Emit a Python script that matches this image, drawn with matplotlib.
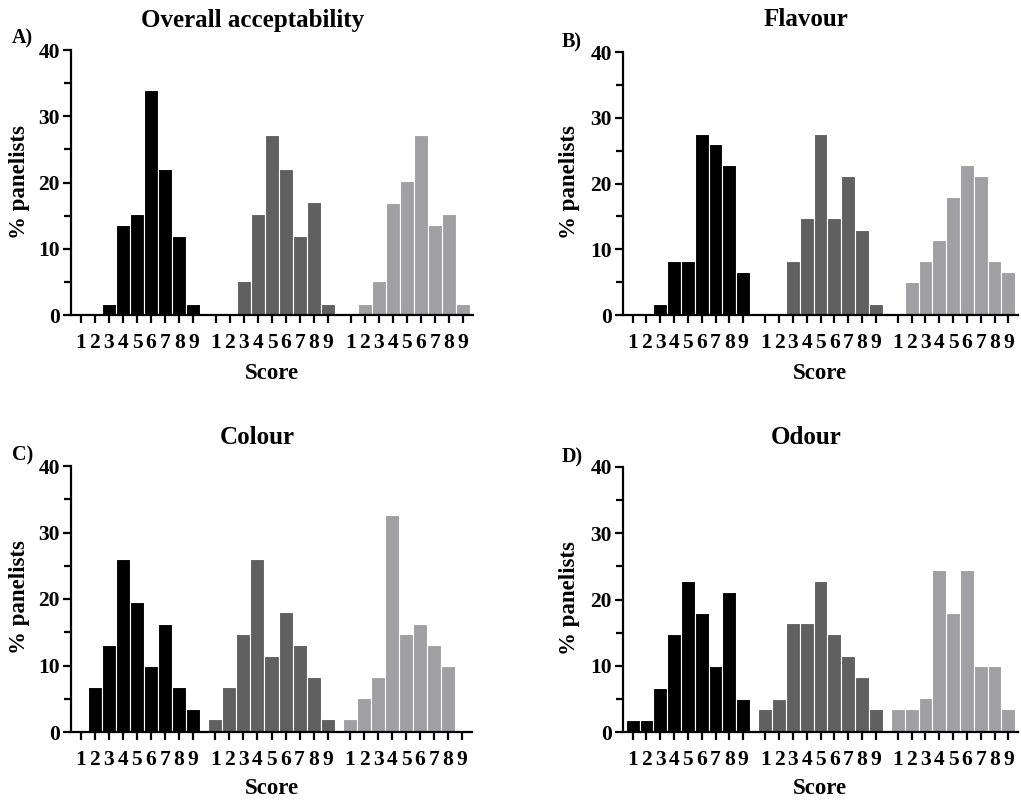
import numpy as np
import matplotlib
matplotlib.use("Agg")
import matplotlib.pyplot as plt
from matplotlib.ticker import MultipleLocator

plt.rcParams['font.family'] = ['Liberation Serif', 'DejaVu Serif']
plt.rcParams['font.weight'] = 'bold'

scores = [1, 2, 3, 4, 5, 6, 7, 8, 9]
colors = ['#000000', '#606060', '#a0a0a4']
group_step = 9.6

# % panelists per score, three samples per attribute
overall_1 = [0, 0, 1.7, 13.6, 15.3, 33.9, 22.0, 11.9, 1.7]
overall_2 = [0, 0, 5.1, 15.3, 27.1, 22.0, 11.9, 17.0, 1.7]
overall_3 = [0, 1.7, 5.1, 16.9, 20.3, 27.1, 13.6, 15.3, 1.7]

flavour_1 = [0, 0, 1.7, 8.2, 8.2, 27.6, 26.0, 22.8, 6.6]
flavour_2 = [0, 0, 8.2, 14.8, 27.6, 14.8, 21.1, 13.0, 1.7]
flavour_3 = [0, 5.0, 8.2, 11.4, 18.0, 22.8, 21.1, 8.2, 6.6]

colour_1 = [0, 6.7, 13.1, 26.0, 19.6, 9.9, 16.3, 6.7, 3.4]
colour_2 = [1.9, 6.7, 14.7, 26.0, 11.5, 18.0, 13.1, 8.3, 1.9]
colour_3 = [1.9, 5.1, 8.3, 32.6, 14.7, 16.3, 13.1, 9.9, 0]

odour_1 = [1.8, 1.8, 6.7, 14.8, 22.8, 18.0, 9.9, 21.1, 5.0]
odour_2 = [3.4, 5.0, 16.4, 16.4, 22.8, 14.8, 11.5, 8.3, 3.4]
odour_3 = [3.4, 3.4, 5.1, 24.5, 18.0, 24.5, 9.9, 9.9, 3.4]


def draw_panel(ax, groups):
    xs_all, labels = [], []
    for g, vals in enumerate(groups):
        xs = np.array(scores) + g * group_step
        ax.bar(xs, vals, width=1.0, color=colors[g], edgecolor='white', linewidth=0.8)
        xs_all.extend(xs)
        labels.extend([str(s) for s in scores])
    ax.set_xticks(xs_all)
    ax.set_xticklabels(labels)
    ax.set_xlim(0.3, 28.9)
    ax.set_ylim(0, 40)
    ax.yaxis.set_major_locator(MultipleLocator(10))
    ax.yaxis.set_minor_locator(MultipleLocator(5))
    for s in ['top', 'right']:
        ax.spines[s].set_visible(False)
    for s in ['left', 'bottom']:
        ax.spines[s].set_linewidth(1.6)
    ax.tick_params(axis='both', which='major', length=6, width=1.6, labelsize=15.5, pad=2)
    ax.tick_params(axis='x', pad=7)
    ax.tick_params(axis='y', which='minor', length=5, width=1.6)
    for t in ax.get_xticklabels() + ax.get_yticklabels():
        t.set_fontweight('bold')


W, H = 1021, 800
fig = plt.figure(figsize=(W / 100, H / 100), dpi=100)


def px_axes(x0, x1, ytop, ybot):
    return fig.add_axes([x0 / W, 1 - ybot / H, (x1 - x0) / W, (ybot - ytop) / H])


panels = [
    (px_axes(71, 473, 50, 315), [overall_1, overall_2, overall_3], 'Overall acceptability', 'A)',
     (253, 20), (12, 38), (20, 182), (272, 373)),
    (px_axes(623, 1018, 52, 315), [flavour_1, flavour_2, flavour_3], 'Flavour', 'B)',
     (806, 20), (562, 42), (570, 182), (820, 373)),
    (px_axes(71, 472, 466, 732), [colour_1, colour_2, colour_3], 'Colour', 'C)',
     (257, 437), (12, 455), (20, 597), (272, 788)),
    (px_axes(623, 1018, 467, 732), [odour_1, odour_2, odour_3], 'Odour', 'D)',
     (806, 437), (562, 457), (570, 598), (820, 788)),
]

for ax, groups, title, letter, tpos, lpos, ypos, xpos in panels:
    draw_panel(ax, groups)
    fig.text(tpos[0] / W, 1 - tpos[1] / H, title, ha='center', va='center',
             fontsize=18, fontweight='bold')
    fig.text(lpos[0] / W, 1 - lpos[1] / H, letter, ha='left', va='center',
             fontsize=14.5, fontweight='bold')
    fig.text(ypos[0] / W, 1 - ypos[1] / H, '% panelists', ha='center', va='center',
             rotation=90, fontsize=16.5, fontweight='bold')
    fig.text(xpos[0] / W, 1 - xpos[1] / H, 'Score', ha='center', va='center',
             fontsize=16.5, fontweight='bold')

fig.savefig('out.png', dpi=100)
